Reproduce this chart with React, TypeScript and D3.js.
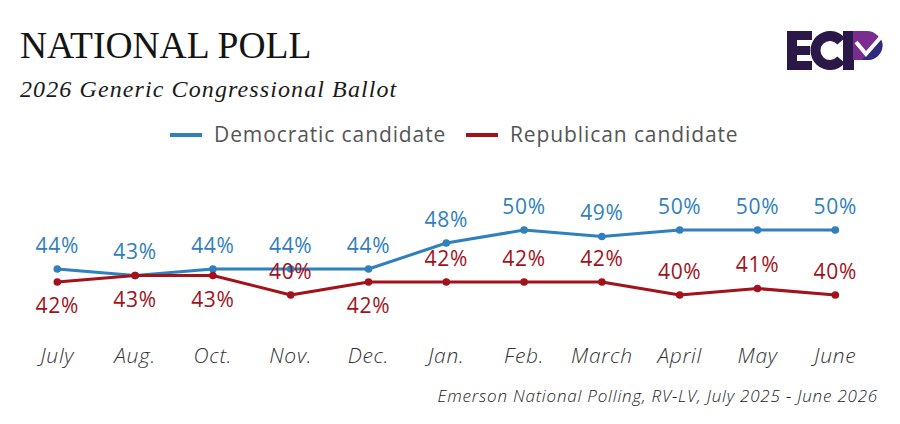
import * as d3 from "d3";
import { useEffect, useRef } from "react";

// poll months, July 2025 - June 2026
const months = ["July", "Aug.", "Oct.", "Nov.", "Dec.", "Jan.", "Feb.", "March", "April", "May", "June"];
const democratic = [44, 43, 44, 44, 44, 48, 50, 49, 50, 50, 50];
const republican = [42, 43, 43, 40, 42, 42, 42, 42, 40, 41, 40];

const seriesNames = ["Democratic candidate", "Republican candidate"];
const BLUE = "#2f80bd";
const RED = "#a3111a";
const SANS = "'Open Sans', 'Noto Sans', sans-serif";
const SERIF = "'Liberation Serif', 'DejaVu Serif', serif";

const App = () => {
    const svgRef = useRef<SVGSVGElement | null>(null);

    useEffect(() => {
        document.body.style.margin = "0";
        const svg = d3.select(svgRef.current);
        const width = 900;
        const height = 424;

        svg.selectAll("*").remove();
        svg.append("rect").attr("width", width).attr("height", height).attr("fill", "#fff");

        // Title block
        svg.append("text")
            .attr("x", 20).attr("y", 58)
            .attr("font-family", SERIF).attr("font-size", 37.5)
            .attr("fill", "#141414")
            .text("NATIONAL POLL");

        svg.append("text")
            .attr("x", 20).attr("y", 97)
            .attr("font-family", SERIF).attr("font-size", 24)
            .attr("font-style", "italic")
            .attr("letter-spacing", 1.1)
            .attr("fill", "#1a1a1a")
            .text("2026 Generic Congressional Ballot");

        // Logo
        const logo = svg.append("g");
        const dark = "#2a1848";
        logo.append("path")
            .attr("d", "M787,31 H812 V40 H797 V46 H810 V55 H797 V61 H812 V70 H787 Z")
            .attr("fill", dark);
        const cArc = d3.arc()
            .innerRadius(9.5)
            .outerRadius(19.5)
            .startAngle(Math.PI * 0.5 + 0.7)
            .endAngle(Math.PI * 2.5 - 0.7);
        logo.append("path")
            .attr("d", cArc({} as any) as string)
            .attr("transform", "translate(830,50.5)")
            .attr("fill", dark);
        logo.append("rect").attr("x", 843).attr("y", 31).attr("width", 11).attr("height", 39).attr("fill", dark);
        logo.append("path")
            .attr("d", "M853,31 H867 A14.5,14.5 0 0 1 867,60 H853 Z")
            .attr("fill", "#7a2c8f");
        logo.append("path")
            .attr("d", "M862,60 L881,39 A14.5,14.5 0 0 1 867,60 Z")
            .attr("fill", "#2e2b7f");
        logo.append("path")
            .attr("d", "M856,42 L866,54 L881,37")
            .attr("fill", "none").attr("stroke", "#fff").attr("stroke-width", 4);

        // Legend
        const legendItems = [
            { name: seriesNames[0], color: BLUE, x: 170 },
            { name: seriesNames[1], color: RED, x: 466 },
        ];
        legendItems.forEach((d) => {
            svg.append("line")
                .attr("x1", d.x).attr("x2", d.x + 32)
                .attr("y1", 135).attr("y2", 135)
                .attr("stroke", d.color).attr("stroke-width", 4);
            svg.append("text")
                .attr("x", d.x + 44).attr("y", 142)
                .attr("font-family", SANS).attr("font-size", 21)
                .attr("letter-spacing", 0.9)
                .attr("fill", "#555")
                .text(d.name);
        });

        // Scales
        const xScale = d3.scalePoint<string>()
            .domain(months)
            .range([57.3, 835.3]);

        const yScale = d3.scaleLinear()
            .domain([40, 50])
            .range([295, 230]);

        const line = d3.line<number>()
            .x((_, i) => xScale(months[i])!)
            .y((d) => yScale(d));

        const series = [
            { values: democratic, color: BLUE },
            { values: republican, color: RED },
        ];

        series.forEach((s) => {
            svg.append("path")
                .datum(s.values)
                .attr("d", line)
                .attr("fill", "none")
                .attr("stroke", s.color)
                .attr("stroke-width", 3)
                .attr("stroke-linejoin", "round");
            svg.append("g")
                .selectAll("circle")
                .data(s.values)
                .join("circle")
                .attr("cx", (_, i) => xScale(months[i])!)
                .attr("cy", (d) => yScale(d))
                .attr("r", 3.8)
                .attr("fill", s.color);
        });

        // Value labels
        svg.append("g")
            .selectAll("text")
            .data(democratic)
            .join("text")
            .attr("x", (_, i) => xScale(months[i])!)
            .attr("y", (d) => yScale(d) - 16.5)
            .attr("text-anchor", "middle")
            .attr("font-family", SANS).attr("font-size", 21)
            .attr("letter-spacing", 0.7)
            .attr("fill", BLUE)
            .text((d) => `${d}%`);

        // republican label goes below the point when the lines are close
        svg.append("g")
            .selectAll("text")
            .data(republican)
            .join("text")
            .attr("x", (_, i) => xScale(months[i])!)
            .attr("y", (d, i) => (democratic[i] - d <= 2 ? yScale(d) + 31 : yScale(d) - 16.5))
            .attr("text-anchor", "middle")
            .attr("font-family", SANS).attr("font-size", 21)
            .attr("letter-spacing", 0.7)
            .attr("fill", RED)
            .text((d) => `${d}%`);

        // Month labels
        svg.append("g")
            .selectAll("text")
            .data(months)
            .join("text")
            .attr("x", (d) => xScale(d)!)
            .attr("y", 363)
            .attr("text-anchor", "middle")
            .attr("font-family", SANS).attr("font-size", 21)
            .attr("font-weight", 300)
            .attr("font-style", "italic")
            .attr("letter-spacing", 0.7)
            .attr("fill", "#333")
            .text((d) => d);

        // Source
        svg.append("text")
            .attr("x", 878).attr("y", 402)
            .attr("text-anchor", "end")
            .attr("font-family", SANS).attr("font-size", 17)
            .attr("font-weight", 300)
            .attr("font-style", "italic")
            .attr("letter-spacing", 0.8)
            .attr("fill", "#222")
            .text("Emerson National Polling, RV-LV, July 2025 - June 2026");
    }, []);

    return <svg ref={svgRef} width={900} height={424} style={{ display: "block" }}></svg>;
};

export default App;
